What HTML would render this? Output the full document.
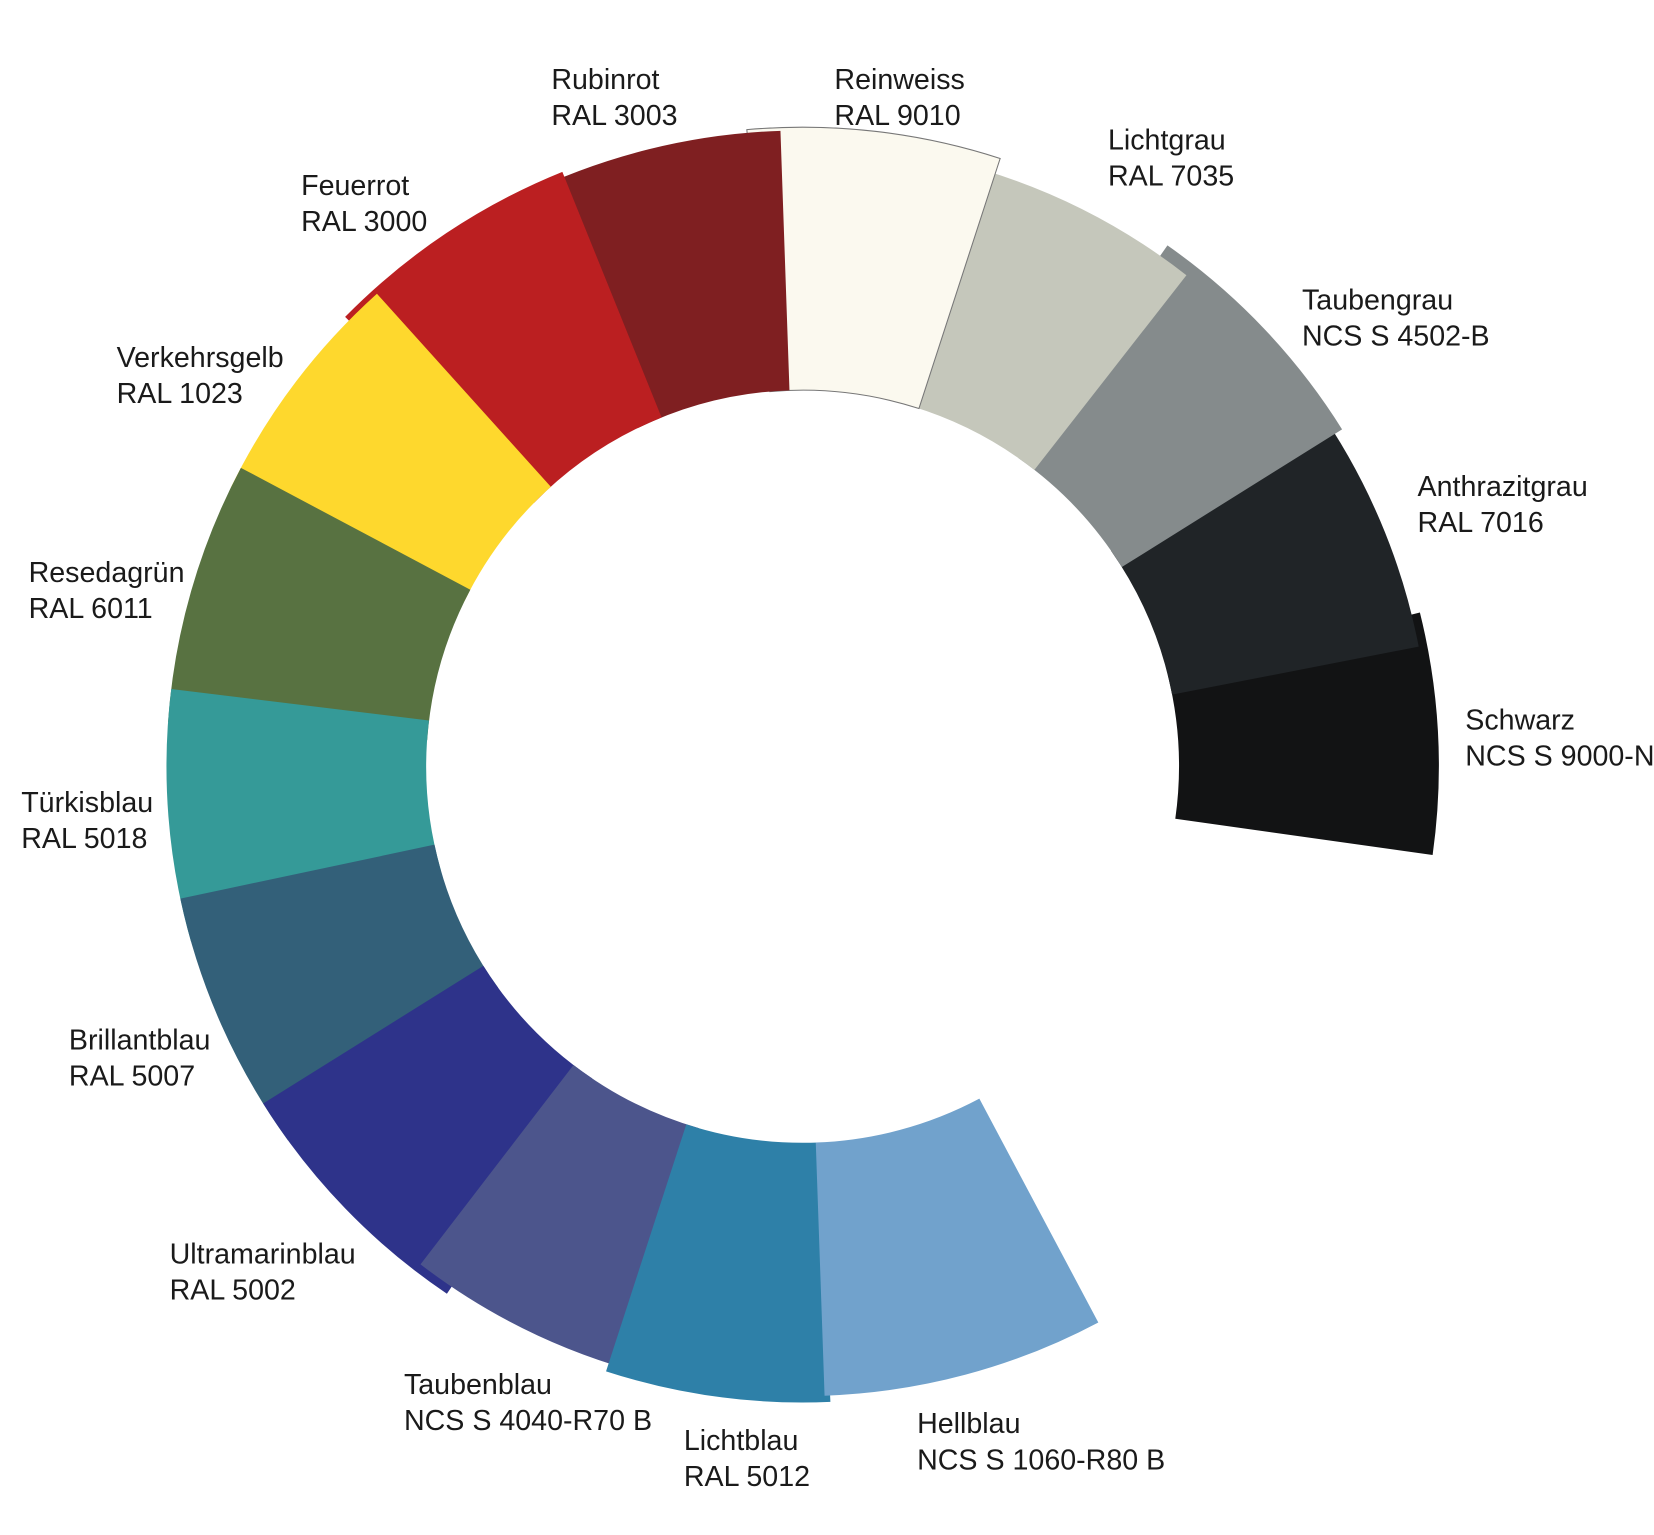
<!DOCTYPE html>
<html><head><meta charset="utf-8"><style>
html,body{margin:0;padding:0;background:#fff;}
svg{display:block;}
text{font-family:"Liberation Sans Narrow","Liberation Sans",sans-serif;font-size:27px;fill:#1a1a1a;}
</style></head><body>
<svg id="s" width="1654" height="1535" viewBox="0 0 1560 1448" preserveAspectRatio="none" xmlns="http://www.w3.org/2000/svg">
<g id="w"></g>
<g>
<text x="520" y="84">Rubinrot</text><text x="520" y="118">RAL 3003</text>
<text x="787" y="84">Reinweiss</text><text x="787" y="118">RAL 9010</text>
<text x="1045" y="141">Lichtgrau</text><text x="1045" y="175">RAL 7035</text>
<text x="284" y="184">Feuerrot</text><text x="284" y="218">RAL 3000</text>
<text x="1228" y="292">Taubengrau</text><text x="1228" y="326">NCS S 4502-B</text>
<text x="110" y="346">Verkehrsgelb</text><text x="110" y="380">RAL 1023</text>
<text x="1337" y="468">Anthrazitgrau</text><text x="1337" y="502">RAL 7016</text>
<text x="27" y="549">Resedagrün</text><text x="27" y="583">RAL 6011</text>
<text x="1382" y="688">Schwarz</text><text x="1382" y="722">NCS S 9000-N</text>
<text x="20" y="766">Türkisblau</text><text x="20" y="800">RAL 5018</text>
<text x="65" y="990">Brillantblau</text><text x="65" y="1024">RAL 5007</text>
<text x="160" y="1192">Ultramarinblau</text><text x="160" y="1226">RAL 5002</text>
<text x="381" y="1315">Taubenblau</text><text x="381" y="1349">NCS S 4040-R70 B</text>
<text x="645" y="1368">Lichtblau</text><text x="645" y="1402">RAL 5012</text>
<text x="865" y="1352">Hellblau</text><text x="865" y="1386">NCS S 1060-R80 B</text>
</g>
</svg>
<script>
var cx=757,cy=723,ri=355;
var segs=[
[-14,8,600,"#121314"],
[-35,-11,592,"#202427"],
[-55,-32,600,"#858b8c"],
[-73,-52,588,"#c5c7bb"],
[-95,-72,603,"#fbf9ef"],
[-116,-92,600,"#7f1f21"],
[-135.5,-112,605,"#bb1f21"],
[-154,-132,600,"#fed82d"],
[-176,-152,600,"#587241"],
[-196,-173,600,"#359a98"],
[144,168,600,"#336079"],
[124,148,600,"#2e338a"],
[106,127.5,592,"#4c558c"],
[87.5,108,600,"#2e80a8"],
[62,88,594,"#71a2cc"]
];
var g=document.getElementById('w'),ns="http://www.w3.org/2000/svg";
function p(a,r){var t=a*Math.PI/180;return (cx+r*Math.cos(t)).toFixed(1)+","+(cy+r*Math.sin(t)).toFixed(1);}
segs.forEach(function(s){
var a0=s[0],a1=s[1],ro=s[2];
var d="M"+p(a0,ri)+" L"+p(a0,ro)+" A"+ro+","+ro+" 0 0 1 "+p(a1,ro)+" L"+p(a1,ri)+" A"+ri+","+ri+" 0 0 0 "+p(a0,ri)+"Z";
var e=document.createElementNS(ns,"path");e.setAttribute("d",d);e.setAttribute("fill",s[3]);
if(s[3]=="#fbf9ef"){e.setAttribute("stroke","#777");e.setAttribute("stroke-width","1");}
g.appendChild(e);
});
</script>
</body></html>
